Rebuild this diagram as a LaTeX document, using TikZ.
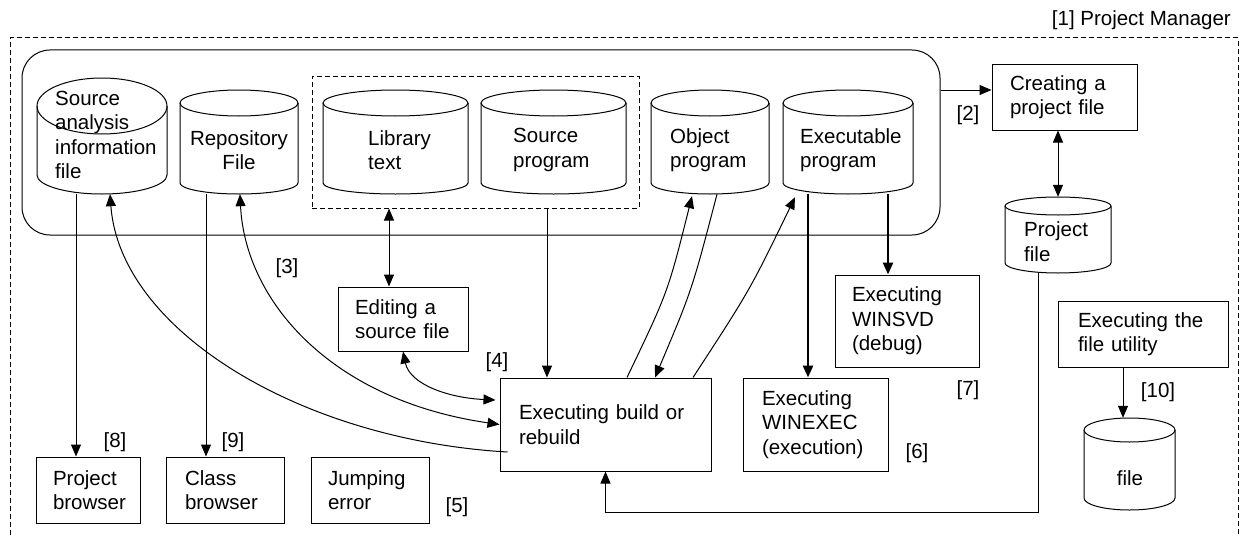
\documentclass[tikz,border=0pt]{standalone}
\usepackage{fontspec}
\setmainfont{Liberation Sans}
\usetikzlibrary{arrows.meta,calc}

\tikzset{
  every node/.style={font=\fontsize{20.5}{24.5}\selectfont},
  box/.style={draw, line width=1pt, rectangle, inner ysep=0pt, align=left},
  drumbody/.style={inner sep=0pt, draw=none},
  drumline/.style={line width=1pt},
  arr/.style={line width=1pt, -{Triangle[length=12pt,width=10pt]}},
  dbl/.style={line width=1pt, {Triangle[length=12pt,width=10pt]}-{Triangle[length=12pt,width=10pt]}},
  heavy/.style={line width=2.6pt, -{Triangle[length=12pt,width=10pt]}},
  tag/.style={inner sep=0pt},
  txt/.style={inner sep=0pt, align=left, anchor=west},
  dashframe/.style={draw, line width=1pt, dash pattern=on 5pt off 3pt},
}

% cylinder: name, left, top, right, bottom, top radius, bottom radius
\newcommand\drum[7]{%
  \node[drumbody, minimum width={(#4-#2)*1pt}, minimum height={(#5-#3)*1pt}] (#1) at ({(#2+#4)/2},{(#3+#5)/2}) {};
  \draw[drumline] (#2,{#3+#6}) -- (#2,{#5-#7})
     .. controls (#2,{#5-#7+0.552*#7}) and ({(#2+#4)/2-0.552*(#4-#2)/2},#5) .. ({(#2+#4)/2},#5)
     .. controls ({(#2+#4)/2+0.552*(#4-#2)/2},#5) and (#4,{#5-#7+0.552*#7}) .. (#4,{#5-#7})
     -- (#4,{#3+#6});
  \draw[drumline] ({(#2+#4)/2},{#3+#6}) ellipse [x radius={(#4-#2)/2}, y radius=#6];
}

\begin{document}
\begin{tikzpicture}[x=1pt, y=-1pt]
\useasboundingbox (0,0) rectangle (1241,535);
\fill[white] (0,0) rectangle (1241,535);

% outer project manager frame
\draw[dashframe] (10,535) -- (10,38) -- (1238,38) -- (1238,535);
\node[tag, anchor=east] (pm) at (1231,20) {[1] Project Manager};

% project store and the editable group
\node[draw, line width=1pt, rounded corners=28pt, minimum width=918pt, minimum height=185pt, inner sep=0pt] (store) at (481,142.5) {};
\node[dashframe, minimum width=327pt, minimum height=132pt, inner sep=0pt] (grp) at (475.5,142) {};

% files
\drum{sa}{37}{78}{167}{194}{28}{19}
\node[txt] (sa-t) at (55,135) {Source\\analysis\\information\\file};
\drum{repo}{180}{90}{298}{194}{13}{11}
\node[inner sep=0pt, align=center] (repo-t) at (239,150) {Repository\\File};
\drum{lib}{323}{90}{468}{194}{13}{11}
\node[txt] (lib-t) at (368,150) {Library\\text};
\drum{src}{481}{90}{626}{194}{13}{11}
\node[txt] (src-t) at (513,150) {Source\\program};
\drum{obj}{651}{90}{769}{194}{13}{11}
\node[txt] (obj-t) at (670,150) {Object\\program};
\drum{exe}{783}{90}{913}{194}{13}{11}
\node[txt] (exe-t) at (800,150) {Executable\\program};
\drum{pfile}{1005}{197}{1111}{273}{9}{10}
\node[txt] (pfile-t) at (1024,241.5) {Project\\file};
\drum{file}{1084}{418}{1175}{510}{12}{12}
\node[inner sep=0pt] (file-t) at (1130,478) {file};

% processes
\node[box, minimum height=66pt, inner xsep=18pt, text width=109pt] (create) at (1064.5,97) {Creating a\\project file};
\node[box, minimum height=64pt, inner xsep=17pt, text width=96pt] (edit) at (403,319) {Editing a\\source file};
\node[box, minimum height=93pt, inner xsep=19pt, text width=173pt] (build) at (605.5,424.5) {Executing build or\\rebuild};
\node[box, minimum height=93pt, inner xsep=19pt, text width=107pt] (wexec) at (815.5,424.5) {Executing\\WINEXEC\\(execution)};
\node[box, minimum height=92pt, inner xsep=17pt, text width=110pt] (wsvd) at (907,321) {Executing\\WINSVD\\(debug)};
\node[box, minimum height=66pt, inner xsep=20pt, text width=130pt] (futil) at (1143,334) {Executing the\\file utility};
\node[box, minimum height=66pt, inner xsep=17pt, text width=70pt] (pbrow) at (88,490) {Project\\browser};
\node[box, minimum height=66pt, inner xsep=19pt, text width=80pt] (cbrow) at (225,490) {Class\\browser};
\node[box, minimum height=66pt, inner xsep=17pt, text width=84pt] (jump) at (370,490) {Jumping\\error};

% step numbers
\node[tag] (n2) at (968,115) {[2]};
\node[tag] (n3) at (287,268) {[3]};
\node[tag] (n4) at (497,362) {[4]};
\node[tag] (n5) at (457,507) {[5]};
\node[tag] (n6) at (917,453) {[6]};
\node[tag] (n7) at (968,390) {[7]};
\node[tag] (n8) at (115,442) {[8]};
\node[tag] (n9) at (233,442) {[9]};
\node[tag] (n10) at (1158,392) {[10]};

% connectors
\draw[arr] ([yshift=7pt]create.west -| store.east) -- ([yshift=7pt]create.west);
\draw[dbl] (create.south -| pfile.north) -- (pfile.north);
\draw[arr] ([xshift=-20pt]pfile.south) |- ([yshift=-41pt]build.south) -- (build.south);

\draw[arr] ([xshift=-26pt]sa.south) -- ([xshift=-26pt]sa.south |- pbrow.north);
\draw[arr] ([xshift=-33pt]repo.south) -- ([xshift=-33pt]repo.south |- cbrow.north);

\draw[arr] ([xshift=8pt,yshift=-27.5pt]build.west) .. controls (300,440) and (120,330) .. ([xshift=8pt]sa.south);
\draw[dbl] ([xshift=1pt]repo.south) .. controls (245,300) and (330,400) .. (build.west);
\draw[dbl] (edit.south) .. controls (410,385) and (450,398) .. ([xshift=-4pt,yshift=24.5pt]build.west);

\draw[dbl] ([xshift=-14pt]edit.north |- grp.south) -- ([xshift=-14pt]edit.north);
\draw[arr] ([xshift=-58.5pt]build.north |- grp.south) -- ([xshift=-58.5pt]build.north);

\draw[arr] ([xshift=21.5pt]build.north) .. controls (668,292) .. ([xshift=-18pt,yshift=-2pt]obj.south);
\draw[arr] ([xshift=7pt]obj.south) .. controls (692,290) .. ([xshift=49.5pt]build.north);
\draw[arr] ([xshift=87.5pt]build.north) .. controls (750,290) .. ([xshift=-53pt,yshift=-3pt]exe.south);

\draw[heavy] ([xshift=-40pt]exe.south) -- ([xshift=-40pt]exe.south |- wexec.north);
\draw[heavy] ([xshift=40pt]exe.south) -- ([xshift=40pt]exe.south |- wsvd.north);

\coordinate (ftop) at ([xshift=-6.5pt]file.north);
\draw[arr] (futil.south -| ftop) -- (ftop);
\end{tikzpicture}
\end{document}
